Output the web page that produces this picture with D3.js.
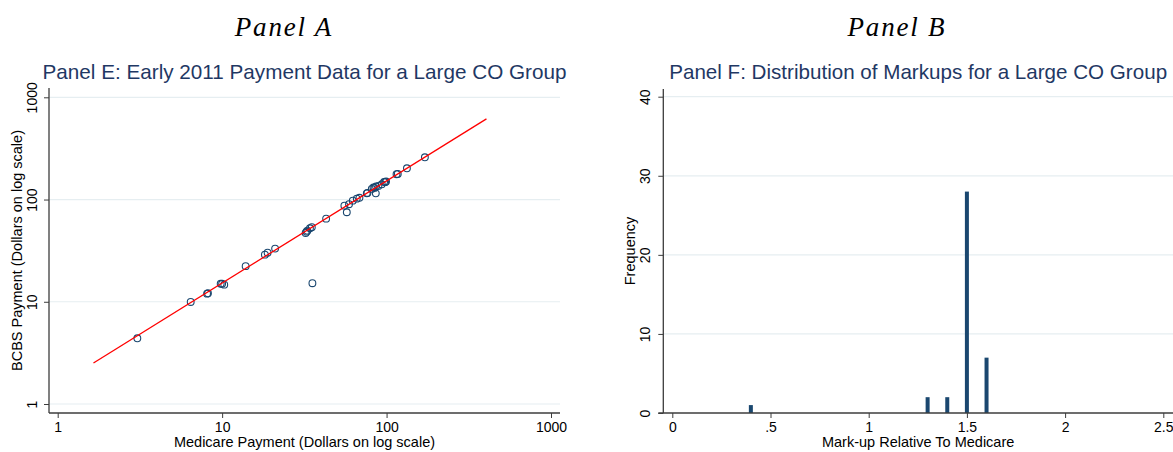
<!DOCTYPE html>
<html>
<head>
<meta charset="utf-8">
<script src="https://cdn.jsdelivr.net/npm/d3@7"></script>
<style>
  html, body { margin: 0; padding: 0; background: #ffffff; }
  svg { display: block; }
  text { font-family: "Liberation Sans", Arial, sans-serif; }
</style>
</head>
<body>
<svg id="chart" width="1173" height="452"></svg>
<script>
// Panel E: payments per service (Medicare vs BCBS), dollars
const medicarePay = [3.05, 6.44, 8.1, 8.2, 9.8, 10.0, 10.3, 13.9, 18.2, 18.9, 21.0,
  32.2, 32.6, 33.0, 34.2, 35.1, 35.4, 42.9, 55.4, 57.3, 59.1, 62.3, 65.9, 68.4,
  75.8, 76.5, 81.3, 83.2, 84.5, 86.0, 86.3, 89.2, 93.5, 96.6, 98.0, 99.3, 115, 117, 133, 171];
const bcbsPay = [4.39, 9.96, 12.0, 12.1, 15.0, 15.0, 14.7, 22.3, 28.9, 30.2, 33.1,
  47.1, 48.5, 49.6, 52.4, 53.6, 15.2, 65.0, 87.1, 75.1, 90.0, 97.5, 102, 104,
  115, 116, 127, 131, 130, 115, 134, 136, 141, 149, 148, 150, 177, 178, 202, 259];
// fitted line endpoints
const fitMedicare = [1.65, 405];
const fitBcbs = [2.52, 615];
const logTicks = [1, 10, 100, 1000];
const logTickLabels = ["1", "10", "100", "1000"];

// Panel F: histogram of markups
const markupBins = [0.4, 1.3, 1.4, 1.5, 1.6];
const markupFreq = [1, 2, 2, 28, 7];
const markupTicks = [0, 0.5, 1, 1.5, 2, 2.5];
const markupTickLabels = ["0", ".5", "1", "1.5", "2", "2.5"];
const freqTicks = [0, 10, 20, 30, 40];
const freqTickLabels = ["0", "10", "20", "30", "40"];

const svg = d3.select("#chart");
const navy = "#1a476f";
const titleColor = "#1f3864";
const gridColor = "#e6eef1";
const axisColor = "#3c3c3c";

// Panel headings
svg.append("text").attr("x", 284).attr("y", 36)
  .attr("text-anchor", "middle")
  .style("font-family", "'Liberation Serif', 'DejaVu Serif', serif")
  .style("font-style", "italic").style("font-size", "27px").style("letter-spacing", "1.8px")
  .text("Panel A");
svg.append("text").attr("x", 897).attr("y", 36)
  .attr("text-anchor", "middle")
  .style("font-family", "'Liberation Serif', 'DejaVu Serif', serif")
  .style("font-style", "italic").style("font-size", "27px").style("letter-spacing", "1.8px")
  .text("Panel B");

function styleYLabels(g, offset) {
  g.selectAll(".tick text")
    .attr("x", 0).attr("dy", 0).attr("y", -offset)
    .attr("transform", "rotate(-90)")
    .attr("text-anchor", "middle");
}

function styleAxis(g) {
  g.select(".domain").remove();
  g.selectAll(".tick line").attr("stroke", axisColor).attr("stroke-width", 1);
  g.selectAll(".tick text").attr("fill", "#000").style("font-size", "14px")
    .style("font-family", "'Liberation Sans', Arial, sans-serif");
}

// ---------- Left panel: log-log scatter ----------
{
  const fx0 = 49, fx1 = 560, fy0 = 88, fy1 = 413;
  const x = d3.scaleLog().domain([1, 1000]).range([57.7, 551]);
  const y = d3.scaleLog().domain([1, 1000]).range([404, 97.3]);

  svg.append("text").attr("x", (fx0 + fx1) / 2).attr("y", 79)
    .attr("text-anchor", "middle").attr("fill", titleColor)
    .style("font-size", "20.7px")
    .text("Panel E: Early 2011 Payment Data for a Large CO Group");

  svg.append("g").selectAll("line").data(logTicks).join("line")
    .attr("x1", fx0).attr("x2", fx1)
    .attr("y1", d => y(d)).attr("y2", d => y(d))
    .attr("stroke", gridColor).attr("stroke-width", 1.2);

  const xa = svg.append("g").attr("transform", `translate(0,${fy1})`)
    .call(d3.axisBottom(x).tickValues(logTicks).tickFormat((d, i) => logTickLabels[i]).tickSize(5).tickPadding(4));
  styleAxis(xa);

  const ya = svg.append("g").attr("transform", `translate(${fx0},0)`)
    .call(d3.axisLeft(y).tickValues(logTicks).tickFormat((d, i) => logTickLabels[i]).tickSize(5));
  styleAxis(ya);
  styleYLabels(ya, 12);

  svg.append("line").attr("x1", fx0).attr("x2", fx1).attr("y1", fy1).attr("y2", fy1)
    .attr("stroke", axisColor).attr("stroke-width", 1.3);
  svg.append("line").attr("x1", fx0).attr("x2", fx0).attr("y1", fy0).attr("y2", fy1)
    .attr("stroke", axisColor).attr("stroke-width", 1.3);

  const pts = medicarePay.map((m, i) => [m, bcbsPay[i]]);
  svg.append("g").selectAll("circle").data(pts).join("circle")
    .attr("cx", d => x(d[0])).attr("cy", d => y(d[1])).attr("r", 3.4)
    .attr("fill", "none").attr("stroke", navy).attr("stroke-width", 1.1);

  const fit = fitMedicare.map((m, i) => [m, fitBcbs[i]]);
  svg.append("path").datum(fit)
    .attr("d", d3.line().x(d => x(d[0])).y(d => y(d[1])))
    .attr("stroke", "#ff0000").attr("stroke-width", 1.3).attr("fill", "none");

  svg.append("text").attr("x", (fx0 + fx1) / 2).attr("y", 447)
    .attr("text-anchor", "middle").style("font-size", "14.5px")
    .text("Medicare Payment (Dollars on log scale)");
  svg.append("text").attr("transform", `translate(22,${(fy0 + fy1) / 2}) rotate(-90)`)
    .attr("text-anchor", "middle").style("font-size", "14.5px")
    .text("BCBS Payment (Dollars on log scale)");
}

// ---------- Right panel: histogram ----------
{
  const fx0 = 663.3, fx1 = 1173, fy0 = 89, fy1 = 413;
  const x = d3.scaleLinear().domain([0, 2.5]).range([672.3, 1163.3]);
  const y = d3.scaleLinear().domain([0, 40]).range([413, 96.7]);

  svg.append("text").attr("x", (fx0 + fx1) / 2).attr("y", 79)
    .attr("text-anchor", "middle").attr("fill", titleColor)
    .style("font-size", "20.6px")
    .text("Panel F: Distribution of Markups for a Large CO Group");

  svg.append("g").selectAll("line").data(freqTicks.slice(1)).join("line")
    .attr("x1", fx0).attr("x2", fx1)
    .attr("y1", d => y(d)).attr("y2", d => y(d))
    .attr("stroke", gridColor).attr("stroke-width", 1.2);

  const xa = svg.append("g").attr("transform", `translate(0,${fy1})`)
    .call(d3.axisBottom(x).tickValues(markupTicks).tickFormat((d, i) => markupTickLabels[i]).tickSize(5).tickPadding(4));
  styleAxis(xa);

  const ya = svg.append("g").attr("transform", `translate(${fx0},0)`)
    .call(d3.axisLeft(y).tickValues(freqTicks).tickFormat((d, i) => freqTickLabels[i]).tickSize(5));
  styleAxis(ya);
  styleYLabels(ya, 13);

  const barW = 4;
  svg.append("g").selectAll("rect").data(markupBins.map((b, i) => [b, markupFreq[i]])).join("rect")
    .attr("x", d => x(d[0]) - barW / 2).attr("width", barW)
    .attr("y", d => y(d[1])).attr("height", d => y(0) - y(d[1]))
    .attr("fill", navy);

  svg.append("line").attr("x1", fx0 - 5).attr("x2", fx1).attr("y1", fy1).attr("y2", fy1)
    .attr("stroke", axisColor).attr("stroke-width", 1.3);
  svg.append("line").attr("x1", fx0).attr("x2", fx0).attr("y1", fy0).attr("y2", fy1)
    .attr("stroke", axisColor).attr("stroke-width", 1.3);

  svg.append("text").attr("x", (fx0 + fx1) / 2).attr("y", 447)
    .attr("text-anchor", "middle").style("font-size", "14.5px")
    .text("Mark-up Relative To Medicare");
  svg.append("text").attr("transform", `translate(635,${(fy0 + fy1) / 2}) rotate(-90)`)
    .attr("text-anchor", "middle").style("font-size", "14.5px")
    .text("Frequency");
}
</script>
</body>
</html>
